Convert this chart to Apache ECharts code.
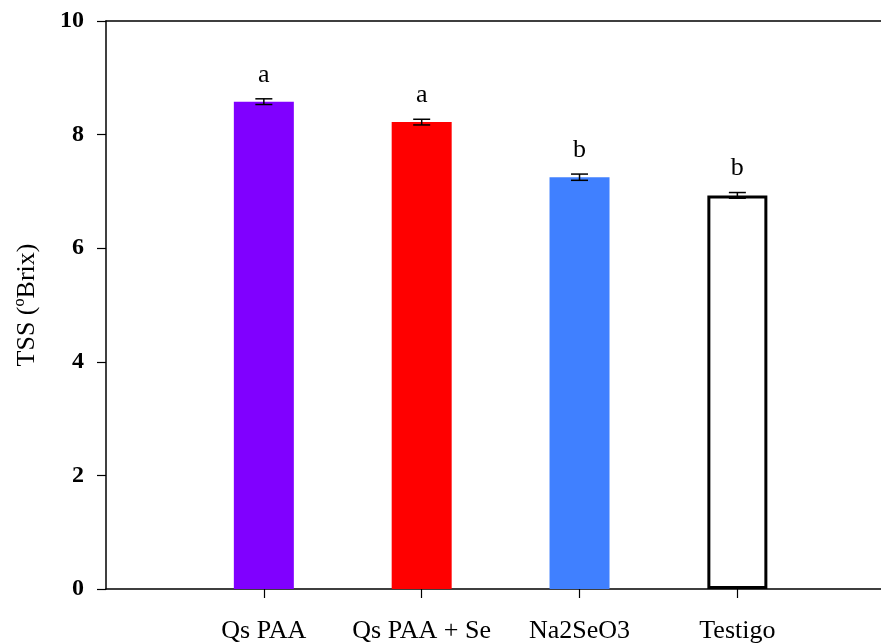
<!DOCTYPE html>
<html>
<head>
<meta charset="utf-8">
<script src="https://cdn.jsdelivr.net/npm/echarts@6/dist/echarts.min.js"></script>
<style>
  html, body { margin: 0; padding: 0; background: #fff; }
  #chart { width: 881px; height: 644px; }
</style>
</head>
<body>
<div id="chart"></div>
<script>
// Treatments and their mean total soluble solids (ºBrix)
const categories = ['Qs PAA', 'Qs PAA + Se', 'Na2SeO3', 'Testigo'];
const tssMean = [8.58, 8.22, 7.25, 6.93];
const tssErr = [0.05, 0.05, 0.055, 0.05];
const groupLetters = ['a', 'a', 'b', 'b'];
const yTicks = [0, 2, 4, 6, 8, 10];

const barFills = ['#8000ff', '#ff0000', '#4080ff', '#ffffff'];
const serif = '"Liberation Serif", "Times New Roman", serif';

const chart = echarts.init(document.getElementById('chart'), null, { renderer: 'canvas' });

const barData = tssMean.map((v, i) => {
  const item = { value: [i + 1, v], itemStyle: { color: barFills[i] } };
  if (i === 3) {
    item.itemStyle.borderColor = '#000';
    item.itemStyle.borderWidth = 3;
  }
  return item;
});

const errData = tssMean.map((v, i) => [i + 1, v, tssErr[i], i]);

chart.setOption({
  animation: false,
  backgroundColor: '#fff',
  grid: { left: 106, right: 0, top: 21, bottom: 54, containLabel: false },
  xAxis: [
    {
      type: 'value',
      position: 'bottom',
      min: 0,
      max: 4.91,
      interval: 1,
      axisLine: { show: true, lineStyle: { color: '#000', width: 1.5 } },
      axisTick: { show: true, customValues: [1, 2, 3, 4], length: 9, inside: false,
                  lineStyle: { color: '#000', width: 1.2 } },
      axisLabel: {
        customValues: [1, 2, 3, 4],
        formatter: v => categories[Math.round(v) - 1] || '',
        color: '#000', fontFamily: serif, fontSize: 26, margin: 29
      },
      splitLine: { show: false }
    },
    {
      type: 'value',
      position: 'top',
      min: 0,
      max: 4.91,
      axisLine: { show: true, onZero: false, lineStyle: { color: '#000', width: 1.5 } },
      axisTick: { show: false },
      axisLabel: { show: false },
      splitLine: { show: false }
    }
  ],
  yAxis: {
    type: 'value',
    min: yTicks[0],
    max: yTicks[yTicks.length - 1],
    interval: 2,
    name: 'TSS (ºBrix)',
    nameLocation: 'middle',
    nameGap: 66,
    nameTextStyle: { color: '#000', fontFamily: serif, fontSize: 26 },
    axisLine: { show: true, lineStyle: { color: '#000', width: 1.5 } },
    axisTick: { show: true, length: 9, inside: false, lineStyle: { color: '#000', width: 1.2 } },
    axisLabel: { color: '#000', fontFamily: serif, fontSize: 24, fontWeight: 'bold', margin: 22 },
    splitLine: { show: false }
  },
  series: [
    {
      type: 'bar',
      xAxisIndex: 0,
      barWidth: 60,
      data: barData,
      z: 2
    },
    {
      type: 'custom',
      xAxisIndex: 0,
      z: 5,
      data: errData,
      renderItem: (params, api) => {
        const x = api.value(0);
        const m = api.value(1);
        const e = api.value(2);
        const idx = api.value(3);
        const top = api.coord([x, m + e]);
        const bot = api.coord([x, m - e]);
        const half = 8.5;
        const style = { stroke: '#000', lineWidth: 1.5 };
        return {
          type: 'group',
          children: [
            { type: 'line', shape: { x1: top[0], y1: top[1], x2: bot[0], y2: bot[1] }, style },
            { type: 'line', shape: { x1: top[0] - half, y1: top[1], x2: top[0] + half, y2: top[1] }, style },
            { type: 'line', shape: { x1: bot[0] - half, y1: bot[1], x2: bot[0] + half, y2: bot[1] }, style },
            {
              type: 'text',
              style: {
                text: groupLetters[idx],
                x: top[0], y: top[1] - 24,
                align: 'center', verticalAlign: 'middle',
                fontFamily: serif, fontSize: 26, fill: '#000'
              }
            }
          ]
        };
      }
    }
  ]
});
</script>
</body>
</html>
